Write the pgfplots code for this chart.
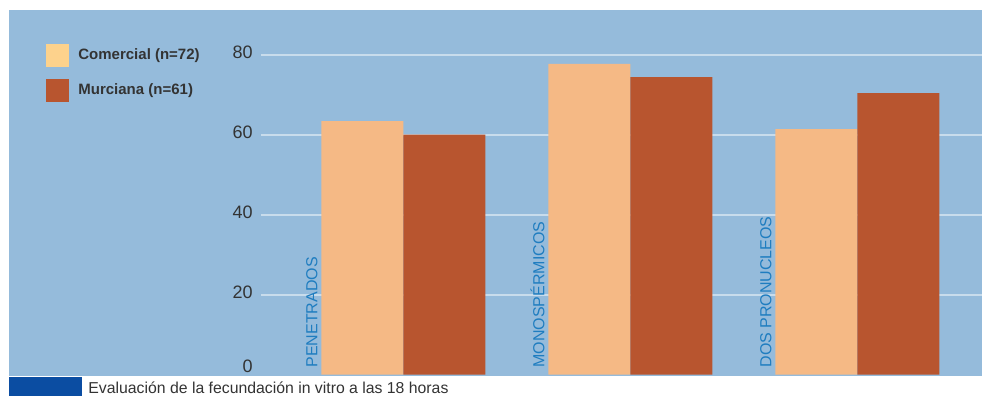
\documentclass[border=0pt]{standalone}
\usepackage{pgfplots}
\pgfplotsset{compat=1.18}
\usepackage{fontspec}
\setmainfont{Liberation Sans}
\definecolor{panel}{HTML}{95BBDB}
\definecolor{gridc}{HTML}{C8DCEC}
\definecolor{comer}{HTML}{F5B985}
\definecolor{murc}{HTML}{B8552F}
\definecolor{legc}{HTML}{FDD28C}
\definecolor{catblue}{HTML}{1F7DC0}
\definecolor{navy}{HTML}{0B4DA2}
\definecolor{txt}{HTML}{333333}
\begin{document}
\begin{tikzpicture}
\useasboundingbox (0pt,0pt) rectangle (491pt,198pt);
\fill[panel] (4.5pt,10pt) rectangle (491pt,193pt);
\fill[navy] (4.5pt,0pt) rectangle (41pt,9.5pt);
\node[anchor=base west, inner sep=0pt, text=txt, font=\fontsize{7.9}{9}\selectfont] at (44pt,1pt) {Evaluación de la fecundación in vitro a las 18 horas};
% legend
\fill[legc] (23pt,164.5pt) rectangle (34.5pt,176pt);
\fill[murc] (23pt,147pt) rectangle (34.5pt,158.5pt);
\node[anchor=west, inner sep=0pt, text=txt, font=\fontsize{7.5}{9}\selectfont\bfseries] at (39pt,170.3pt) {Comercial (n=72)};
\node[anchor=west, inner sep=0pt, text=txt, font=\fontsize{7.5}{9}\selectfont\bfseries] at (39pt,152.8pt) {Murciana (n=61)};
\begin{axis}[
  at={(130.5pt,10pt)}, anchor=south west,
  scale only axis, width=360.5pt, height=183pt,
  xmin=-0.627, xmax=2.549,
  ymin=-0.325, ymax=91.175,
  ybar, bar width=41pt,
  axis line style={draw=none},
  tick style={draw=none},
  xtick=\empty,
  ytick={20,40,60,80},
  ymajorgrids,
  grid style={gridc, line width=1.1pt},
  extra y ticks={0},
  extra y tick style={grid=none, yticklabel style={yshift=3pt}},
  yticklabel style={anchor=east, inner sep=0pt, xshift=-4pt, yshift=1.3pt, text=txt, font=\fontsize{9}{10}\selectfont},
  /pgf/number format/assume math mode=true,
  clip=false,
]
\addplot[fill=comer, draw=none, bar shift=-20.5pt] coordinates {(0,63.4) (1,77.7) (2,61.4)};
\addplot[fill=murc, draw=none, bar shift=20.5pt] coordinates {(0,60.0) (1,74.4) (2,70.4)};
\node[rotate=90, anchor=base west, inner sep=0pt, text=catblue, font=\fontsize{8}{9}\selectfont] at (axis cs:-0.379,1.7) {PENETRADOS};
\node[rotate=90, anchor=base west, inner sep=0pt, text=catblue, font=\fontsize{8}{9}\selectfont] at (axis cs:0.621,1.7) {MONOSPÉRMICOS};
\node[rotate=90, anchor=base west, inner sep=0pt, text=catblue, font=\fontsize{8}{9}\selectfont] at (axis cs:1.621,1.7) {DOS PRONUCLEOS};
\end{axis}
\end{tikzpicture}
\end{document}
